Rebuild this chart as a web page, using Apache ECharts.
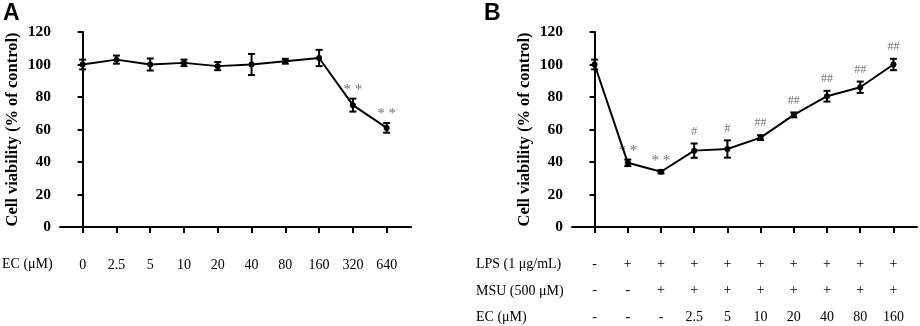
<!DOCTYPE html>
<html>
<head>
<meta charset="utf-8">
<script src="https://cdn.jsdelivr.net/npm/echarts@6/dist/echarts.min.js"></script>
<style>
  html, body { margin: 0; padding: 0; background: #fff; }
  #chart { width: 920px; height: 326px; }
</style>
</head>
<body>
<div id="chart"></div>
<script>
// panel A: EC alone
var catsA = ['0', '2.5', '5', '10', '20', '40', '80', '160', '320', '640'];
var meanA = [100, 103, 100, 101, 99, 100, 102, 104, 75, 61];
var errA = [3, 2.5, 3.7, 2, 2.5, 6.5, 1.5, 5, 4, 3];
var sigA = ['', '', '', '', '', '', '', '', '**', '**'];

// panel B: LPS + MSU + EC
var lpsB = ['-', '+', '+', '+', '+', '+', '+', '+', '+', '+'];
var msuB = ['-', '-', '+', '+', '+', '+', '+', '+', '+', '+'];
var ecB = ['-', '-', '-', '2.5', '5', '10', '20', '40', '80', '160'];
var meanB = [100, 39.5, 34, 47, 48, 55, 69, 80.5, 86, 100];
var errB = [3, 2, 1, 4.4, 5.3, 1.5, 1.5, 3.3, 3.5, 3.5];
var sigB = ['', '**', '**', '#', '#', '##', '##', '##', '##', '##'];

var yTicks = [0, 20, 40, 60, 80, 100, 120];

var serif = '"Liberation Serif", "Times New Roman", serif';
var chart = echarts.init(document.getElementById('chart'));

function idx(arr) {
  return arr.map(function (_, i) { return i; });
}

function yAxisOpt(gi) {
  return {
    gridIndex: gi,
    type: 'value',
    min: yTicks[0],
    max: yTicks[yTicks.length - 1],
    interval: 20,
    name: 'Cell viability (% of control)',
    nameLocation: 'middle',
    nameGap: 39,
    nameTextStyle: { fontFamily: serif, fontWeight: 'bold', fontSize: 16.5, color: '#000' },
    axisLine: { show: true, lineStyle: { color: '#000', width: 2 } },
    axisTick: { show: true, length: 5, lineStyle: { color: '#000', width: 2 } },
    axisLabel: { fontFamily: serif, fontWeight: 'bold', fontSize: 15.5, color: '#000', margin: 9 },
    splitLine: { show: false }
  };
}

function errSeries(xi, yi, means, errs, sigs) {
  return {
    type: 'custom',
    xAxisIndex: xi,
    yAxisIndex: yi,
    z: 3,
    data: means.map(function (m, i) { return [i, m, errs[i]]; }),
    renderItem: function (params, api) {
      var x = api.value(0), y = api.value(1), e = api.value(2);
      var top = api.coord([x, y + e]);
      var bot = api.coord([x, y - e]);
      var w = 3.5;
      var ls = { stroke: '#000', lineWidth: 2 };
      var kids = [
        { type: 'line', shape: { x1: top[0], y1: top[1], x2: bot[0], y2: bot[1] }, style: ls },
        { type: 'line', shape: { x1: top[0] - w, y1: top[1], x2: top[0] + w, y2: top[1] }, style: ls },
        { type: 'line', shape: { x1: bot[0] - w, y1: bot[1], x2: bot[0] + w, y2: bot[1] }, style: ls }
      ];
      var s = sigs[params.dataIndex];
      if (s) {
        var star = s[0] === '*';
        kids.push({
          type: 'text',
          style: {
            text: star ? s.split('').join(' ') : s,
            x: top[0], y: top[1] - (star ? 9 : 12),
            align: 'center', verticalAlign: 'middle',
            fill: '#777', font: (star ? '15px ' : '12px ') + serif
          }
        });
      }
      return { type: 'group', children: kids };
    }
  };
}

function lineSeries(xi, yi, means) {
  return {
    type: 'line',
    xAxisIndex: xi,
    yAxisIndex: yi,
    z: 4,
    data: means.map(function (m, i) { return [i, m]; }),
    symbol: 'circle',
    symbolSize: 6,
    itemStyle: { color: '#000' },
    lineStyle: { color: '#000', width: 2 },
    emphasis: { disabled: true }
  };
}

var option = {
  animation: false,
  backgroundColor: '#fff',
  grid: [
    { left: 60, top: 32, width: 351, height: 195, outerBoundsMode: 'none', containLabel: false },
    { left: 572, top: 32, width: 345, height: 195, outerBoundsMode: 'none', containLabel: false }
  ],
  xAxis: [
    {
      gridIndex: 0,
      type: 'value',
      min: -0.67,
      max: 9.72,
      axisLine: { show: true, onZero: false, lineStyle: { color: '#000', width: 2 } },
      axisTick: { show: true, length: 6, customValues: idx(catsA), lineStyle: { color: '#000', width: 2 } },
      axisLabel: {
        customValues: idx(catsA),
        margin: 31,
        fontFamily: serif, fontSize: 14, color: '#000',
        formatter: function (v) { return catsA[Math.round(v)]; }
      },
      splitLine: { show: false }
    },
    {
      gridIndex: 1,
      type: 'value',
      min: -0.68,
      max: 9.71,
      axisLine: { show: true, onZero: false, lineStyle: { color: '#000', width: 2 } },
      axisTick: { show: true, length: 6, customValues: idx(ecB), lineStyle: { color: '#000', width: 2 } },
      axisLabel: {
        customValues: idx(ecB),
        margin: 24,
        fontFamily: serif, fontSize: 14, color: '#000', lineHeight: 26.5,
        formatter: function (v) {
          var i = Math.round(v);
          return lpsB[i] + '\n' + msuB[i] + '\n' + ecB[i];
        }
      },
      splitLine: { show: false }
    }
  ],
  yAxis: [yAxisOpt(0), yAxisOpt(1)],
  graphic: [
    { type: 'text', left: 3, top: 2, style: { text: 'A', font: 'bold 23px "Liberation Sans", Arial, sans-serif', fill: '#000' } },
    { type: 'text', left: 484, top: 2, style: { text: 'B', font: 'bold 23px "Liberation Sans", Arial, sans-serif', fill: '#000' } },
    { type: 'text', left: 2, top: 257, style: { text: 'EC (μM)', font: '14px ' + serif, fill: '#000' } },
    { type: 'text', left: 476, top: 257, style: { text: 'LPS (1 μg/mL)', font: '14px ' + serif, fill: '#000' } },
    { type: 'text', left: 476, top: 284, style: { text: 'MSU (500 μM)', font: '14px ' + serif, fill: '#000' } },
    { type: 'text', left: 476, top: 310, style: { text: 'EC (μM)', font: '14px ' + serif, fill: '#000' } }
  ],
  series: [
    errSeries(0, 0, meanA, errA, sigA),
    lineSeries(0, 0, meanA),
    errSeries(1, 1, meanB, errB, sigB),
    lineSeries(1, 1, meanB)
  ]
};

chart.setOption(option);
</script>
</body>
</html>
